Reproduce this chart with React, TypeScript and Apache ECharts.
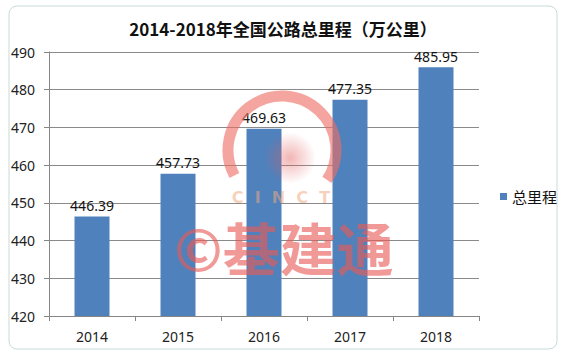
import React, { useEffect, useRef } from "react";
import * as echarts from "echarts";

const categories = ["2014", "2015", "2016", "2017", "2018"];
const mileage = [446.39, 457.73, 469.63, 477.35, 485.95];
const seriesName = "总里程";
const titleText = "2014-2018年全国公路总里程（万公里）";

export default function App() {
  const ref = useRef<HTMLDivElement>(null);
  useEffect(() => {
    if (!ref.current) return;
    const chart = echarts.init(ref.current, undefined, { renderer: "svg" });
    const font = "'Noto Sans', 'Noto Sans CJK SC', sans-serif";
    chart.setOption({
      animation: false,
      backgroundColor: "#ffffff",
      textStyle: { fontFamily: font },
      title: {
        text: titleText,
        left: "center",
        top: 15,
        textStyle: { fontSize: 17, fontWeight: "bold", color: "#111", fontFamily: "'Noto Sans CJK SC', sans-serif" },
      },
      legend: {
        data: [seriesName],
        left: 495,
        top: 184,
        orient: "vertical",
        icon: "rect",
        itemWidth: 7,
        itemHeight: 7,
        itemGap: 5,
        textStyle: { fontSize: 15, color: "#111", fontFamily: "'Noto Sans CJK SC', sans-serif" },
      },
      grid: { left: 49, right: 87, top: 52, bottom: 39 },
      xAxis: {
        type: "category",
        data: categories,
        axisLine: { lineStyle: { color: "#868686" } },
        axisTick: { show: true, length: 5, alignWithLabel: false, lineStyle: { color: "#868686" } },
        axisLabel: { fontSize: 14, color: "#222", margin: 13 },
      },
      yAxis: {
        type: "value",
        min: 420,
        max: 490,
        interval: 10,
        axisLine: { show: true, lineStyle: { color: "#868686" } },
        axisTick: { show: true, length: 5, lineStyle: { color: "#868686" } },
        axisLabel: { fontSize: 14, color: "#222", margin: 14 },
        splitLine: { lineStyle: { color: "#8a8a8a" } },
      },
      series: [
        {
          name: seriesName,
          type: "bar",
          data: mileage,
          barWidth: 35,
          itemStyle: { color: "#4f81bd" },
          label: { show: true, position: "top", distance: 4, fontSize: 14, color: "#111" },
        },
      ],
      graphic: [
        {
          type: "rect",
          shape: { x: 9, y: 6, width: 548, height: 343, r: 8 },
          style: { fill: "none", stroke: "#c9dada", lineWidth: 1 },
          silent: true,
        },
        {
          type: "circle",
          shape: { cx: 290, cy: 158, r: 26 },
          style: {
            fill: new echarts.graphic.RadialGradient(0.5, 0.5, 0.5, [
              { offset: 0, color: "rgba(225,90,90,0.45)" },
              { offset: 1, color: "rgba(225,90,90,0)" },
            ]),
          },
          silent: true,
          z: 100,
        },
        {
          type: "arc",
          shape: { cx: 282, cy: 150, r: 54, startAngle: 2.65, endAngle: 6.87, clockwise: true },
          style: { stroke: "rgba(238,110,100,0.62)", lineWidth: 11, fill: "none" },
          silent: true,
          z: 100,
        },
        {
          type: "text",
          x: 281,
          y: 197,
          style: {
            text: "C  I  N  C  T",
            fill: "rgba(240,170,130,0.55)",
            fontSize: 16,
            fontWeight: "bold",
            align: "center",
            verticalAlign: "middle",
            fontFamily: "'DejaVu Sans', sans-serif",
          },
          silent: true,
          z: 100,
        },
        {
          type: "text",
          x: 284,
          y: 246,
          style: {
            text: "©基建通",
            fill: "rgba(232,90,85,0.62)",
            fontSize: 57,
            fontWeight: "bold",
            align: "center",
            verticalAlign: "middle",
            fontFamily: "'Noto Sans CJK SC', sans-serif",
          },
          silent: true,
          z: 100,
        },
      ],
    });
    return () => chart.dispose();
  }, []);
  return (
    <div
      ref={ref}
      style={{ position: "fixed", left: 0, top: 0, width: 566, height: 355 }}
    />
  );
}
